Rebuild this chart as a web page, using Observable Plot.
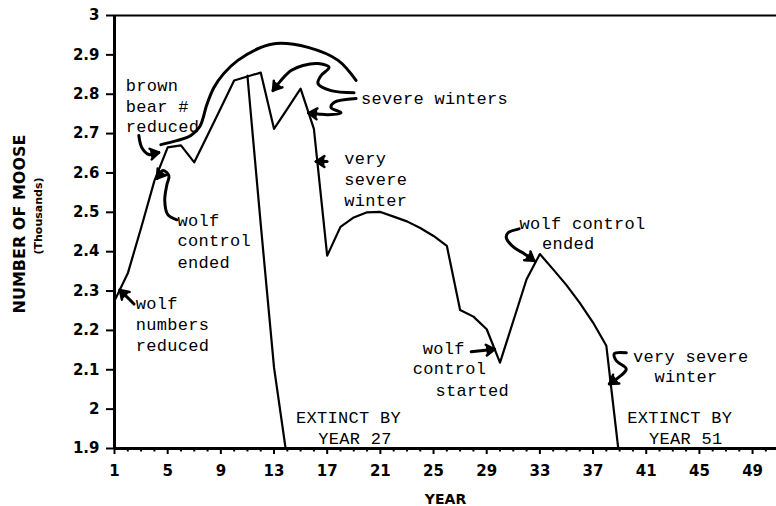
<!DOCTYPE html>
<html><head><meta charset="utf-8">
<script src="https://cdn.jsdelivr.net/npm/d3@7"></script>
<script src="https://cdn.jsdelivr.net/npm/@observablehq/plot@0.6"></script>
<style>
html,body{margin:0;padding:0;background:#fff;}
g[font-family="Liberation Mono"]{letter-spacing:0.3px;}
</style></head><body><div id="chart"></div>
<script>
// ---- data ----
const years = [1,2,3,4,5,6,7,8,9,10,11,12,13,14,15,16,17,18,19,20,21,22,23,24,25,26,27,28,29,30,31,32,33,34,35,36,37,38,39];
const moose = [2.275,2.345,2.46,2.58,2.665,2.67,2.627,2.696,2.765,2.835,2.845,2.855,2.712,2.763,2.814,2.712,2.39,2.463,2.487,2.50,2.501,2.489,2.477,2.46,2.44,2.415,2.252,2.235,2.203,2.118,2.224,2.33,2.394,2.355,2.315,2.27,2.22,2.161,1.87];
const extinctYears = [11,12,13,14];
const extinctMoose = [2.847,2.47,2.106,1.87];
const yTicks = [1.9,2.0,2.1,2.2,2.3,2.4,2.5,2.6,2.7,2.8,2.9,3.0];
const xMajor = [1,5,9,13,17,21,25,29,33,37,41,45,49];
const xMinor = [2,3,4,6,7,8,10,11,12,14,15,16,18,19,20,22,23,24,26,27,28,30,31,32,34,35,36,38,39,40,42,43,44,46,47,48,50];

// annotation texts (year, value)
const notes = [
  {text:"brown", x:1.85, y:2.822},
  {text:"bear #", x:1.85, y:2.769},
  {text:"reduced", x:1.85, y:2.718},
  {text:"wolf", x:5.74, y:2.479},
  {text:"control", x:5.74, y:2.428},
  {text:"ended", x:5.74, y:2.373},
  {text:"wolf", x:2.60, y:2.267},
  {text:"numbers", x:2.60, y:2.214},
  {text:"reduced", x:2.60, y:2.161},
  {text:"severe winters", x:19.55, y:2.790},
  {text:"very", x:18.29, y:2.636},
  {text:"severe", x:18.29, y:2.583},
  {text:"winter", x:18.29, y:2.531},
  {text:"wolf", x:24.19, y:2.154},
  {text:"control", x:23.44, y:2.102},
  {text:"started", x:25.14, y:2.048},
  {text:"wolf control", x:31.47, y:2.472},
  {text:"ended", x:33.15, y:2.420},
  {text:"very severe", x:40.01, y:2.133},
  {text:"winter", x:41.63, y:2.082},
  {text:"EXTINCT BY", x:14.65, y:1.979},
  {text:"YEAR 27", x:16.33, y:1.926},
  {text:"EXTINCT BY", x:39.58, y:1.979},
  {text:"YEAR 51", x:41.21, y:1.926}
];

// hand-drawn annotation strokes (year, value); last point is the arrow tip
const strokes = [
  {head:true, pts:[[2.47,2.267],[1.4,2.303]]},
  {head:true, pts:[[5.69,2.481],[5.01,2.494],[4.78,2.530],[4.94,2.570],[5.09,2.593],[4.64,2.606],[4.19,2.586]]},
  {head:true, pts:[[2.83,2.695],[3.06,2.664],[3.58,2.647],[4.34,2.652]]},
  {head:false, pts:[[4.49,2.672],[5.69,2.682],[6.745,2.695],[7.42,2.718],[7.95,2.774],[8.48,2.817],[9.23,2.853],[10.28,2.886],[12.02,2.919],[13.15,2.929],[15.56,2.919],[17.82,2.886],[19.17,2.835]]},
  {head:true, pts:[[19.02,2.804],[17.29,2.809],[16.31,2.827],[16.53,2.847],[17.14,2.868],[16.31,2.878],[15.18,2.873],[14.28,2.860],[13.52,2.835],[12.92,2.809]]},
  {head:true, pts:[[19.17,2.789],[17.51,2.779],[17.29,2.766],[18.04,2.753],[17.06,2.748],[16.31,2.750],[15.6,2.752]]},
  {head:true, pts:[[16.99,2.629],[16.16,2.629]]},
  {head:true, pts:[[27.83,2.146],[29.6,2.152]]},
  {head:true, pts:[[31.44,2.458],[30.61,2.448],[30.47,2.436],[31.07,2.410],[31.82,2.395],[32.57,2.377]]},
  {head:true, pts:[[39.50,2.143],[38.60,2.141],[38.75,2.123],[39.50,2.102],[38.90,2.080],[38.22,2.064]]}
];

// ---- layout ----
const W = 776, H = 506, ML = 114, MR = 0, MT = 15, MB = 58;
const xDomain = [1, 50.8], yDomain = [1.9, 3];
const kx = (W - ML - MR) / (xDomain[1] - xDomain[0]);
const ky = (H - MT - MB) / (yDomain[1] - yDomain[0]);

const mainRows = years.map((x, i) => ({x, y: moose[i]}));
const extRows = extinctYears.map((x, i) => ({x, y: extinctMoose[i]}));
const strokeRows = strokes.flatMap((s, id) => s.pts.map(([x, y], i) => ({id, i, x, y})));
const headRows = strokes.flatMap((s, id) => {
  if (!s.head) return [];
  const n = s.pts.length;
  const [x1, y1] = s.pts[n - 2], [x2, y2] = s.pts[n - 1];
  const dx = (x2 - x1) * kx, dy = -(y2 - y1) * ky;
  const len = Math.hypot(dx, dy);
  const bx = -dx / len, by = -dy / len;
  const L = 10, a = Math.PI / 5.5;
  const wing = sg => {
    const c = Math.cos(sg * a), sn = Math.sin(sg * a);
    const rx = bx * c - by * sn, ry = bx * sn + by * c;
    return {id, x: x2 + rx * L / kx, y: y2 - ry * L / ky};
  };
  return [wing(1), {id, x: x2, y: y2}, wing(-1)];
});

const fmt = d => String(+d.toFixed(1));

const chart = Plot.plot({
  width: W, height: H,
  marginLeft: ML, marginRight: MR, marginTop: MT, marginBottom: MB,
  x: {domain: xDomain},
  y: {domain: yDomain},
  style: {background: "#fff", color: "#000", fontFamily: "DejaVu Sans"},
  marks: [
    Plot.axisY({ticks: yTicks, tickSize: 8, tickPadding: 7, tickFormat: fmt, label: null,
      fontSize: 15, fontWeight: "bold", fontFamily: "DejaVu Sans", strokeWidth: 2}),
    Plot.axisX({ticks: xMinor, tickSize: 3.5, tickFormat: () => "", label: null, strokeWidth: 2}),
    Plot.axisX({ticks: xMajor, tickSize: 6, tickPadding: 11, label: null,
      fontSize: 15, fontWeight: "bold", fontFamily: "DejaVu Sans", strokeWidth: 2}),
    Plot.ruleY([yDomain[1]], {stroke: "#000", strokeWidth: 2}),
    Plot.ruleY([yDomain[0]], {stroke: "#000", strokeWidth: 3}),
    Plot.ruleX([xDomain[0]], {stroke: "#000", strokeWidth: 3}),
    Plot.line(mainRows, {x: "x", y: "y", stroke: "#000", strokeWidth: 2.2, clip: true}),
    Plot.line(extRows, {x: "x", y: "y", stroke: "#000", strokeWidth: 2.2, clip: true}),
    Plot.line(strokeRows, {x: "x", y: "y", z: "id", curve: "catmull-rom", stroke: "#000", strokeWidth: 3, strokeLinecap: "round"}),
    Plot.line(headRows, {x: "x", y: "y", z: "id", stroke: "#000", fill: "#000", strokeWidth: 2.5, strokeLinejoin: "round"}),
    Plot.text(notes, {x: "x", y: "y", text: "text", textAnchor: "start", lineAnchor: "middle",
      fontFamily: "Liberation Mono", fontSize: 17, fill: "#000"}),
    Plot.text(["NUMBER OF MOOSE"], {text: d => d, frameAnchor: "left", textAnchor: "middle", lineAnchor: "middle",
      dx: -95, dy: -8, rotate: -90, fontSize: 16, fontWeight: "bold", fontFamily: "DejaVu Sans"}),
    Plot.text(["(Thousands)"], {text: d => d, frameAnchor: "left", textAnchor: "middle", lineAnchor: "middle",
      dx: -76, dy: -16, rotate: -90, fontSize: 11, fontWeight: "bold", fontFamily: "DejaVu Sans"}),
    Plot.text(["YEAR"], {text: d => d, frameAnchor: "bottom", textAnchor: "middle", lineAnchor: "middle",
      dy: 51, fontSize: 14, fontWeight: "bold", fontFamily: "DejaVu Sans"})
  ]
});
document.getElementById("chart").appendChild(chart);
</script></body></html>
